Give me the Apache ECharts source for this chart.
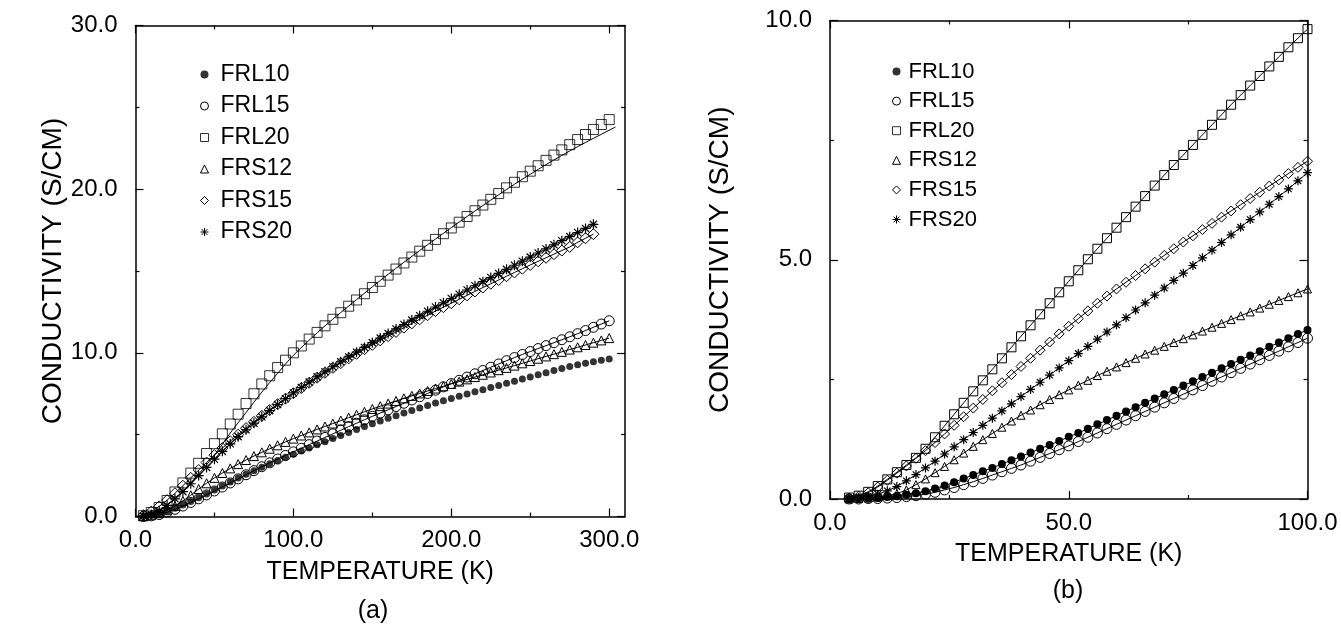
<!DOCTYPE html>
<html><head><meta charset="utf-8">
<script src="https://cdn.jsdelivr.net/npm/echarts@6/dist/echarts.min.js"></script>
<style>html,body{margin:0;padding:0;background:#fff}#c{width:1341px;height:628px}</style>
</head><body><div id="c"></div>
<script>
// ---------- Panel (a): 0-300 K ----------
const tempA = [5,10,15,20,25,30,35,40,45,50,55,60,65,70,75,80,85,90,95,100,105,110,115,120,125,130,135,140,145,150,155,160,165,170,175,180,185,190,195,200,205,210,215,220,225,230,235,240,245,250,255,260,265,270,275,280,285,290,295,300];
const frl10A = [0.01,0.06,0.16,0.32,0.50,0.70,0.92,1.14,1.38,1.62,1.87,2.11,2.35,2.58,2.80,3.01,3.22,3.42,3.62,3.81,4.00,4.19,4.38,4.57,4.76,4.95,5.14,5.32,5.50,5.67,5.84,6.00,6.16,6.32,6.48,6.63,6.78,6.93,7.07,7.21,7.35,7.49,7.62,7.75,7.88,8.01,8.14,8.27,8.40,8.53,8.66,8.79,8.92,9.04,9.16,9.27,9.37,9.46,9.55,9.63];
const frl15A = [0.00,0.04,0.12,0.26,0.44,0.64,0.86,1.08,1.32,1.56,1.80,2.05,2.30,2.55,2.80,3.04,3.28,3.51,3.73,3.95,4.17,4.39,4.61,4.83,5.05,5.27,5.49,5.70,5.91,6.12,6.32,6.52,6.72,6.92,7.12,7.32,7.52,7.72,7.92,8.12,8.32,8.52,8.72,8.92,9.12,9.32,9.52,9.71,9.90,10.08,10.26,10.44,10.62,10.80,10.98,11.17,11.36,11.56,11.76,11.96];
const frl20A = [0.05,0.25,0.55,0.98,1.50,2.05,2.65,3.25,3.85,4.45,5.05,5.65,6.25,6.90,7.50,8.10,8.60,9.10,9.55,10.00,10.42,10.84,11.25,11.65,12.05,12.45,12.85,13.23,13.61,13.99,14.37,14.75,15.12,15.49,15.85,16.21,16.57,16.93,17.28,17.63,17.98,18.33,18.68,19.03,19.38,19.73,20.08,20.42,20.76,21.10,21.43,21.76,22.08,22.40,22.72,23.03,23.34,23.65,23.95,24.25];
const frs12A = [0.02,0.08,0.20,0.38,0.65,0.95,1.30,1.68,2.03,2.36,2.66,2.94,3.20,3.45,3.69,3.92,4.14,4.35,4.56,4.76,4.95,5.14,5.32,5.50,5.68,5.86,6.04,6.22,6.40,6.57,6.74,6.90,7.06,7.22,7.37,7.52,7.67,7.82,7.96,8.10,8.24,8.38,8.52,8.66,8.80,8.94,9.08,9.22,9.36,9.50,9.64,9.78,9.92,10.06,10.20,10.34,10.48,10.62,10.76,10.90];
const frs15A = [0.08,0.30,0.62,1.00,1.42,1.88,2.36,2.84,3.30,3.75,4.18,4.60,5.00,5.40,5.78,6.15,6.51,6.86,7.20,7.53,7.85,8.17,8.48,8.78,9.08,9.37,9.66,9.94,10.22,10.49,10.76,11.02,11.28,11.54,11.80,12.05,12.30,12.55,12.79,13.03,13.27,13.51,13.75,13.99,14.22,14.45,14.68,14.91,15.14,15.37,15.59,15.81,16.03,16.25,16.47,16.75,17.00,17.25];
const frs20A = [0.03,0.12,0.35,0.68,1.08,1.52,2.00,2.50,3.00,3.50,3.98,4.44,4.88,5.30,5.70,6.09,6.47,6.84,7.20,7.55,7.88,8.21,8.53,8.84,9.15,9.45,9.75,10.04,10.33,10.62,10.90,11.18,11.46,11.73,12.00,12.27,12.54,12.80,13.06,13.32,13.58,13.84,14.10,14.35,14.60,14.85,15.10,15.35,15.60,15.85,16.10,16.35,16.60,16.85,17.10,17.35,17.60,17.85];
// fitted curve drawn with FRL20 in panel (a)
const fitTempA = [0,10,20,30,40,50,60,70,80,90,100,120,140,160,180,200,220,240,260,280,300,304];
const frl20FitA = [0,0.15,0.70,1.55,2.60,3.75,5.10,6.35,7.60,8.75,9.85,11.65,13.25,14.80,16.25,17.65,19.00,20.30,21.50,22.60,23.60,23.80];
const xMajorA = [0,100,200,300];
const xMinorA = [50,150,250];

// ---------- Panel (b): 0-100 K ----------
const tempB = [4,6,8,10,12,14,16,18,20,22,24,26,28,30,32,34,36,38,40,42,44,46,48,50,52,54,56,58,60,62,64,66,68,70,72,74,76,78,80,82,84,86,88,90,92,94,96,98,100];
const frl10B = [0.00,0.01,0.01,0.02,0.04,0.06,0.09,0.12,0.16,0.22,0.28,0.35,0.43,0.50,0.58,0.65,0.73,0.81,0.89,0.97,1.05,1.13,1.21,1.30,1.38,1.47,1.56,1.65,1.74,1.83,1.92,2.01,2.10,2.19,2.28,2.37,2.46,2.55,2.64,2.73,2.82,2.91,3.00,3.09,3.18,3.27,3.36,3.45,3.53];
const frl15B = [0.00,0.00,0.01,0.01,0.02,0.03,0.05,0.07,0.10,0.14,0.19,0.24,0.30,0.36,0.43,0.50,0.57,0.64,0.71,0.79,0.87,0.95,1.03,1.11,1.20,1.29,1.38,1.47,1.56,1.65,1.74,1.83,1.92,2.01,2.10,2.19,2.28,2.37,2.46,2.55,2.64,2.73,2.82,2.91,3.00,3.09,3.18,3.27,3.36];
const frl20B = [0.03,0.07,0.15,0.27,0.41,0.56,0.71,0.86,1.05,1.29,1.53,1.77,2.01,2.25,2.48,2.71,2.94,3.17,3.40,3.63,3.86,4.09,4.32,4.55,4.78,5.01,5.23,5.45,5.67,5.89,6.11,6.33,6.55,6.77,6.98,7.19,7.40,7.61,7.82,8.03,8.24,8.44,8.64,8.84,9.04,9.24,9.44,9.63,9.82];
const frs12B = [0.00,0.01,0.02,0.04,0.07,0.11,0.19,0.30,0.42,0.55,0.68,0.82,0.96,1.10,1.24,1.37,1.50,1.63,1.75,1.86,1.97,2.08,2.18,2.28,2.38,2.48,2.58,2.67,2.76,2.85,2.94,3.03,3.11,3.19,3.27,3.35,3.43,3.51,3.59,3.67,3.75,3.83,3.91,3.99,4.07,4.15,4.23,4.31,4.39];
const frs15B = [0.02,0.06,0.13,0.25,0.39,0.54,0.69,0.85,1.01,1.18,1.36,1.54,1.72,1.90,2.08,2.26,2.43,2.60,2.77,2.94,3.11,3.28,3.45,3.61,3.77,3.93,4.09,4.24,4.39,4.53,4.67,4.81,4.95,5.09,5.23,5.37,5.50,5.63,5.76,5.89,6.02,6.15,6.28,6.41,6.54,6.67,6.80,6.93,7.06];
const frs20B = [0.01,0.03,0.06,0.10,0.17,0.26,0.38,0.51,0.65,0.79,0.94,1.09,1.24,1.39,1.54,1.69,1.84,1.99,2.14,2.29,2.44,2.59,2.74,2.89,3.04,3.19,3.34,3.49,3.64,3.79,3.95,4.10,4.26,4.41,4.57,4.72,4.88,5.04,5.20,5.36,5.52,5.68,5.84,6.00,6.16,6.32,6.48,6.65,6.82];

const seriesNames = ['FRL10','FRL15','FRL20','FRS12','FRS15','FRS20'];

// ---------- styling ----------
const FONT = '"Liberation Sans", Arial, Helvetica, sans-serif';
const STAR = 'path://M0,-5L0,5M-5,0L5,0M-3.6,-3.6L3.6,3.6M-3.6,3.6L3.6,-3.6';
const SYM = {FRL10:'circle', FRL15:'circle', FRL20:'rect', FRS12:'triangle', FRS15:'diamond', FRS20:STAR};
const HOLLOW = {color:'rgba(255,255,255,0)', borderColor:'#000', borderWidth:1};
const STYLE = {
  FRL10:{color:'#000', borderColor:'#000', borderWidth:0},
  FRL15:HOLLOW, FRL20:HOLLOW, FRS12:HOLLOW, FRS15:HOLLOW,
  FRS20:{color:'#000', borderColor:'#000', borderWidth:1.2}
};
const LEG_STYLE = {
  FRL10:{color:'#000', borderColor:'#000', borderWidth:0},
  FRL15:{color:'#fff', borderColor:'#000', borderWidth:1},
  FRL20:{color:'#fff', borderColor:'#000', borderWidth:1},
  FRS12:{color:'#fff', borderColor:'#000', borderWidth:1},
  FRS15:{color:'#fff', borderColor:'#000', borderWidth:1},
  FRS20:{color:'#000', borderColor:'#000', borderWidth:1}
};
const f1 = v => Number(v).toFixed(1);
const pairs = (xs, ys) => ys.map((y, i) => [xs[i], y]);
const AXL = {color:'#000', width:1.5};
const TK = {color:'#000', width:1.2};

function mk(name, type, xi, yi, xs, ys, size, withLine) {
  return {
    name, type, xAxisIndex:xi, yAxisIndex:yi,
    data: pairs(xs, ys),
    symbol: SYM[name], symbolSize: size,
    itemStyle: STYLE[name],
    lineStyle: {color:'#000', width: withLine ? 1 : 0, opacity: withLine ? 1 : 0},
    showSymbol: true, showAllSymbol: true,
    emphasis: {disabled: true}, silent: true, z: 3
  };
}

const series = [
  // panel (a)
  mk('FRL10','scatter',0,0,tempA,frl10A,7,false),
  mk('FRL15','line',0,0,tempA,frl15A,10,true),
  mk('FRL20','scatter',0,0,tempA,frl20A,10,false),
  {name:'FRL20 fit', type:'line', xAxisIndex:0, yAxisIndex:0, data:pairs(fitTempA, frl20FitA),
   symbol:'none', smooth:0.3, lineStyle:{color:'#000', width:1}, silent:true, z:2},
  mk('FRS12','line',0,0,tempA,frs12A,9,true),
  mk('FRS15','line',0,0,tempA,frs15A,11,true),
  mk('FRS20','line',0,0,tempA,frs20A,10,true),
  // panel (b)
  mk('FRL10','line',4,2,tempB,frl10B,8,true),
  mk('FRL15','line',4,2,tempB,frl15B,10,true),
  mk('FRL20','line',4,2,tempB,frl20B,9,true),
  mk('FRS12','line',4,2,tempB,frs12B,8,true),
  mk('FRS15','line',4,2,tempB,frs15B,10,true),
  mk('FRS20','line',4,2,tempB,frs20B,9,true)
];

const legendData = seriesNames.map(n => ({name:n, icon:SYM[n], itemStyle:LEG_STYLE[n]}));

const option = {
  animation: false,
  backgroundColor: '#fff',
  textStyle: {fontFamily: FONT},
  grid: [
    {left:135.5, top:25.5, width:489.5, height:491},
    {left:830, top:20.5, width:477.5, height:478.5}
  ],
  legend: [
    {orient:'vertical', left:195, top:58, itemWidth:8, itemHeight:8, itemGap:8.5,
     selectedMode:false, data:legendData,
     textStyle:{fontSize:23, color:'#000', fontFamily:FONT, padding:[0,0,0,7]}},
    {orient:'vertical', left:887, top:55.5, itemWidth:8, itemHeight:8, itemGap:7.6,
     selectedMode:false, data:legendData,
     textStyle:{fontSize:22, color:'#000', fontFamily:FONT, padding:[0,0,0,3]}}
  ],
  xAxis: [
    {gridIndex:0, type:'value', position:'bottom', min:0, max:310,
     axisLine:{show:true, onZero:false, lineStyle:AXL},
     axisTick:{show:true, inside:true, length:8, customValues:xMajorA, lineStyle:TK},
     axisLabel:{customValues:xMajorA, formatter:f1, fontSize:24, color:'#000', fontFamily:FONT, margin:12},
     splitLine:{show:false},
     name:'TEMPERATURE (K)', nameLocation:'middle', nameGap:43,
     nameTextStyle:{fontSize:25, color:'#000', fontFamily:FONT}},
    {gridIndex:0, type:'value', position:'bottom', min:0, max:310,
     axisLine:{show:false, onZero:false},
     axisTick:{show:true, inside:true, length:4, customValues:xMinorA, lineStyle:TK},
     axisLabel:{show:false}, splitLine:{show:false}},
    {gridIndex:0, type:'value', position:'top', min:0, max:310,
     axisLine:{show:true, onZero:false, lineStyle:AXL},
     axisTick:{show:true, inside:true, length:8, customValues:xMajorA, lineStyle:TK},
     axisLabel:{show:false}, splitLine:{show:false}},
    {gridIndex:0, type:'value', position:'top', min:0, max:310,
     axisLine:{show:false, onZero:false},
     axisTick:{show:true, inside:true, length:4, customValues:xMinorA, lineStyle:TK},
     axisLabel:{show:false}, splitLine:{show:false}},
    {gridIndex:1, type:'value', position:'bottom', min:0, max:100, interval:50,
     axisLine:{show:true, onZero:false, lineStyle:AXL},
     axisTick:{show:true, inside:true, length:8, lineStyle:TK},
     minorTick:{show:true, splitNumber:2, length:4, lineStyle:TK},
     axisLabel:{formatter:f1, fontSize:24, color:'#000', fontFamily:FONT, margin:12},
     splitLine:{show:false},
     name:'TEMPERATURE (K)', nameLocation:'middle', nameGap:43,
     nameTextStyle:{fontSize:25, color:'#000', fontFamily:FONT}},
    {gridIndex:1, type:'value', position:'top', min:0, max:100, interval:50,
     axisLine:{show:true, onZero:false, lineStyle:AXL},
     axisTick:{show:true, inside:true, length:8, lineStyle:TK},
     minorTick:{show:true, splitNumber:2, length:4, lineStyle:TK},
     axisLabel:{show:false}, splitLine:{show:false}}
  ],
  yAxis: [
    {gridIndex:0, type:'value', position:'left', min:0, max:30, interval:10,
     axisLine:{show:true, onZero:false, lineStyle:AXL},
     axisTick:{show:true, inside:true, length:8, lineStyle:TK},
     minorTick:{show:true, splitNumber:2, length:4, lineStyle:TK},
     axisLabel:{formatter:f1, fontSize:24, color:'#000', fontFamily:FONT, margin:18},
     splitLine:{show:false},
     name:'CONDUCTIVITY (S/CM)', nameLocation:'middle', nameGap:40, nameRotate:90,
     nameTextStyle:{fontSize:28, color:'#000', fontFamily:FONT}},
    {gridIndex:0, type:'value', position:'right', min:0, max:30, interval:10,
     axisLine:{show:true, onZero:false, lineStyle:AXL},
     axisTick:{show:true, inside:true, length:8, lineStyle:TK},
     minorTick:{show:true, splitNumber:2, length:4, lineStyle:TK},
     axisLabel:{show:false}, splitLine:{show:false}},
    {gridIndex:1, type:'value', position:'left', min:0, max:10, interval:5,
     axisLine:{show:true, onZero:false, lineStyle:AXL},
     axisTick:{show:true, inside:true, length:8, lineStyle:TK},
     minorTick:{show:true, splitNumber:2, length:4, lineStyle:TK},
     axisLabel:{formatter:f1, fontSize:24, color:'#000', fontFamily:FONT, margin:18},
     splitLine:{show:false},
     name:'CONDUCTIVITY (S/CM)', nameLocation:'middle', nameGap:96, nameRotate:90,
     nameTextStyle:{fontSize:28, color:'#000', fontFamily:FONT}},
    {gridIndex:1, type:'value', position:'right', min:0, max:10, interval:5,
     axisLine:{show:true, onZero:false, lineStyle:AXL},
     axisTick:{show:true, inside:true, length:8, lineStyle:TK},
     minorTick:{show:true, splitNumber:2, length:4, lineStyle:TK},
     axisLabel:{show:false}, splitLine:{show:false}}
  ],
  graphic: [
    {type:'text', x:373, y:611, silent:true,
     style:{text:'(a)', fontSize:25, fill:'#000', fontFamily:FONT, align:'center', verticalAlign:'middle'}},
    {type:'text', x:1068, y:591, silent:true,
     style:{text:'(b)', fontSize:25, fill:'#000', fontFamily:FONT, align:'center', verticalAlign:'middle'}}
  ],
  series
};

const chart = echarts.init(document.getElementById('c'), null, {renderer:'canvas'});
chart.setOption(option);
</script>
</body></html>
